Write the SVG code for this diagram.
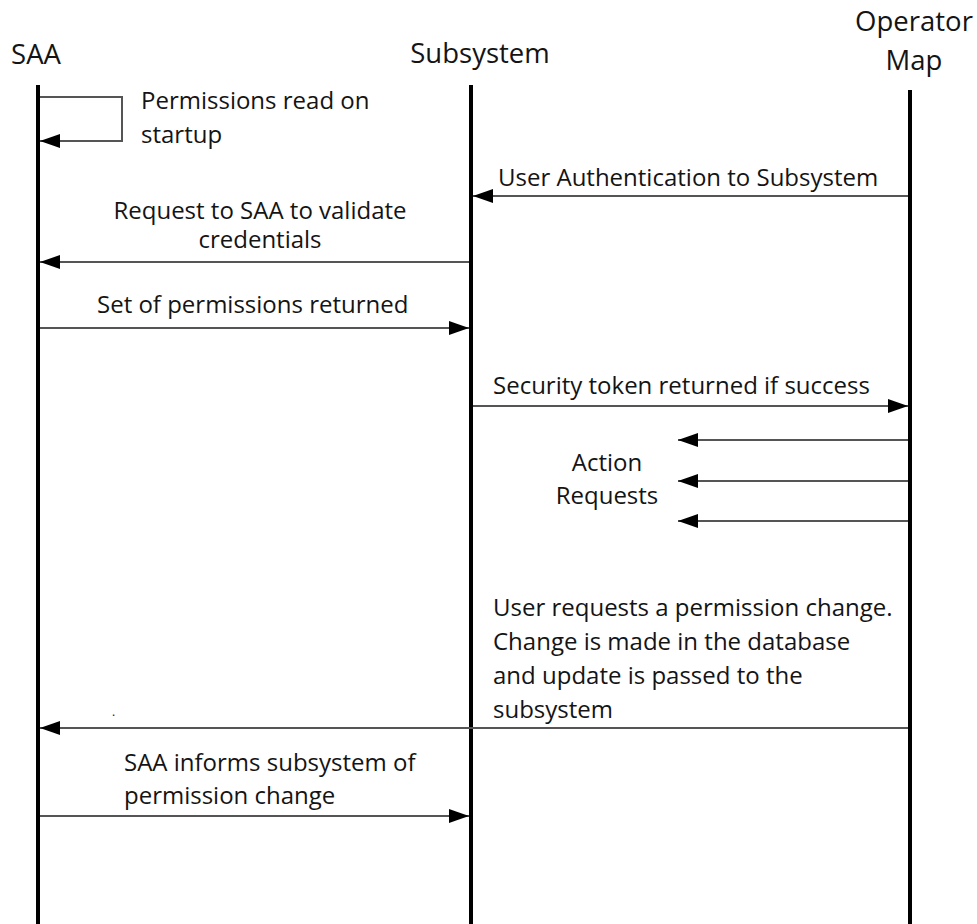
<svg xmlns="http://www.w3.org/2000/svg" width="977" height="924" viewBox="0 0 977 924">
<style>
text{font-family:"Open Sans","Noto Sans",sans-serif;font-size:24px;fill:#141414}
text.hd{font-size:27.5px}
text.dot{font-size:12px}
.life{stroke:#000;stroke-width:4}
.msg{stroke:#555;stroke-width:2;fill:none}
</style>
<defs>
<marker id="ah" viewBox="0 0 20 14" refX="20" refY="7" markerWidth="20" markerHeight="14" markerUnits="userSpaceOnUse" orient="auto">
<path d="M0,0 L20,7 L0,14 Z" fill="#000"/>
</marker>
</defs>
<rect width="977" height="924" fill="#fff"/>
<g id="saa">
<text class="hd" x="36" y="64" text-anchor="middle">SAA</text>
<line class="life" x1="38" y1="85" x2="38" y2="924"/>
</g>
<g id="subsystem">
<text class="hd" x="480" y="63" text-anchor="middle">Subsystem</text>
<line class="life" x1="471" y1="85" x2="471" y2="924"/>
</g>
<g id="operator-map">
<text class="hd" x="914" y="31" text-anchor="middle">Operator</text>
<text class="hd" x="914" y="70" text-anchor="middle">Map</text>
<line class="life" x1="910" y1="90" x2="910" y2="924"/>
</g>
<g id="connectors">
<polyline class="msg" points="40,97 122,97 122,141 40,141" marker-end="url(#ah)"/>
<line class="msg" x1="908" y1="196" x2="473" y2="196" marker-end="url(#ah)"/>
<line class="msg" x1="469" y1="262" x2="40" y2="262" marker-end="url(#ah)"/>
<line class="msg" x1="40" y1="328" x2="469" y2="328" marker-end="url(#ah)"/>
<line class="msg" x1="473" y1="406" x2="908" y2="406" marker-end="url(#ah)"/>
<line class="msg" x1="908" y1="440" x2="678" y2="440" marker-end="url(#ah)"/>
<line class="msg" x1="908" y1="481" x2="678" y2="481" marker-end="url(#ah)"/>
<line class="msg" x1="908" y1="521" x2="678" y2="521" marker-end="url(#ah)"/>
<line class="msg" x1="908" y1="728" x2="40" y2="728" marker-end="url(#ah)"/>
<line class="msg" x1="40" y1="816" x2="469" y2="816" marker-end="url(#ah)"/>
</g>
<g id="labels">
<text x="141" y="109">Permissions read on</text>
<text x="141" y="143">startup</text>
<text x="498" y="186">User Authentication to Subsystem</text>
<text x="260" y="219" text-anchor="middle">Request to SAA to validate</text>
<text x="260" y="248" text-anchor="middle">credentials</text>
<text x="97" y="313">Set of permissions returned</text>
<text x="493" y="394">Security token returned if success</text>
<text x="607" y="471" text-anchor="middle">Action</text>
<text x="607" y="504" text-anchor="middle">Requests</text>
<text x="493" y="616">User requests a permission change.</text>
<text x="493" y="650">Change is made in the database</text>
<text x="493" y="684">and update is passed to the</text>
<text x="493" y="718">subsystem</text>
<text class="dot" x="112" y="716">.</text>
<text x="124" y="771">SAA informs subsystem of</text>
<text x="124" y="804">permission change</text>
</g>
</svg>
